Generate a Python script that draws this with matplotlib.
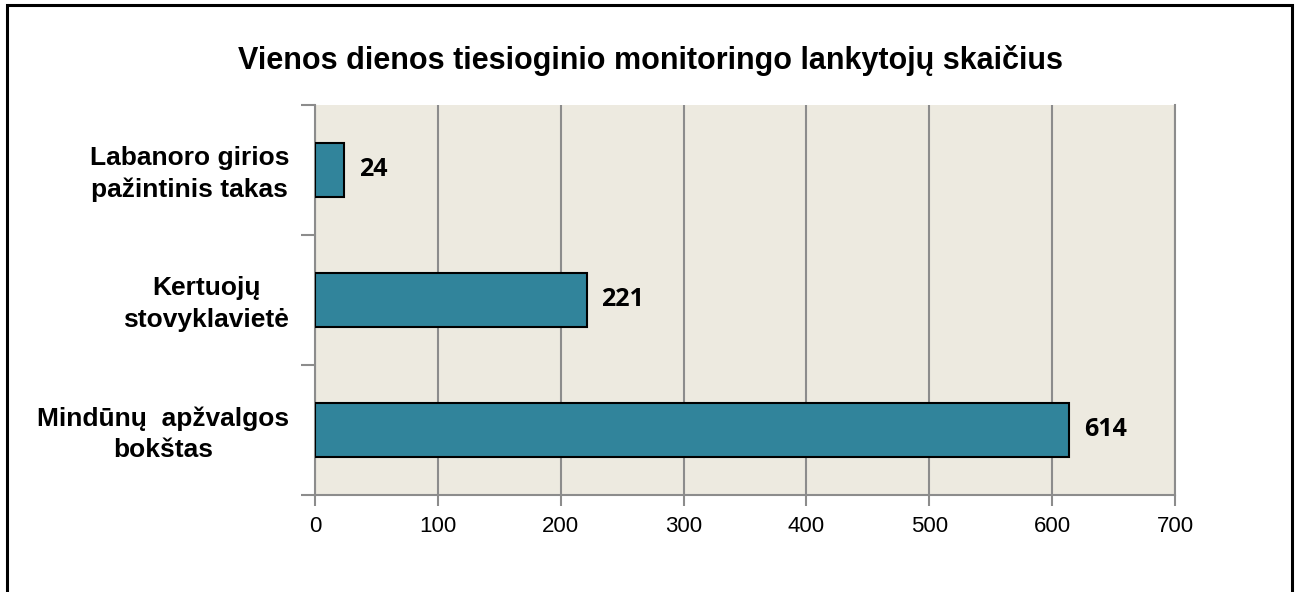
import matplotlib
matplotlib.use("Agg")
import matplotlib.pyplot as plt
from matplotlib.patches import Rectangle

categories = ["Mindūnų  apžvalgos\nbokštas", "Kertuojų\nstovyklavietė", "Labanoro girios\npažintinis takas"]
values = [614, 221, 24]
xticks = [0, 100, 200, 300, 400, 500, 600, 700]
title = "Vienos dienos tiesioginio monitoringo lankytojų skaičius"

W, H = 1298, 592
fig = plt.figure(figsize=(W / 100, H / 100), dpi=100)
fig.patch.set_facecolor("white")

# outer chart border
fig.patches.append(Rectangle((7 / W, -0.02), (1292 - 7) / W, (H - 5) / H + 0.02,
                             transform=fig.transFigure, fill=False,
                             edgecolor="black", linewidth=2.2))

ax = fig.add_axes([315 / W, (H - 495) / H, (1175 - 315) / W, (495 - 105) / H])
ax.set_facecolor("#EDEAE0")

grid_c = "#8C8C8C"
ypos = list(range(len(categories)))
ax.barh(ypos, values, height=0.41, color="#31849B", edgecolor="black", linewidth=1.5, zorder=3)

ax.set_xlim(0, 700)
ax.set_ylim(-0.5, len(categories) - 0.5)
ax.set_xticks(xticks)
ax.set_xticklabels([str(t) for t in xticks], fontsize=16, family="Liberation Sans")
ax.xaxis.grid(True, color=grid_c, linewidth=1.5, zorder=1)

# y ticks at category boundaries, labels at centres
ax.set_yticks([-0.5, 0.5, 1.5, 2.5])
ax.set_yticklabels([])
ax.tick_params(axis="y", length=10, width=1.5, color=grid_c, direction="out")
ax.tick_params(axis="x", length=8, width=1.5, color=grid_c, direction="out", pad=7)

for y, lab in zip(ypos, categories):
    ax.text(-0.03, y - 0.03, lab, transform=ax.get_yaxis_transform(), ha="right", va="center",
            multialignment="center", fontsize=19, fontweight="bold",
            family="Liberation Sans", linespacing=1.38)

for y, v in zip(ypos, values):
    ax.text(v + 12, y, str(v), ha="left", va="center", fontsize=18,
            fontweight="bold", family="Open Sans", zorder=4)

ax.spines["top"].set_visible(False)
for side in ["right", "left", "bottom"]:
    ax.spines[side].set_color(grid_c)
    ax.spines[side].set_linewidth(1.5)

fig.text(650 / W, 1 - 60 / H, title, ha="center", va="center", fontsize=22,
         fontweight="bold", family="Liberation Sans")

fig.savefig("out.png", dpi=100)
